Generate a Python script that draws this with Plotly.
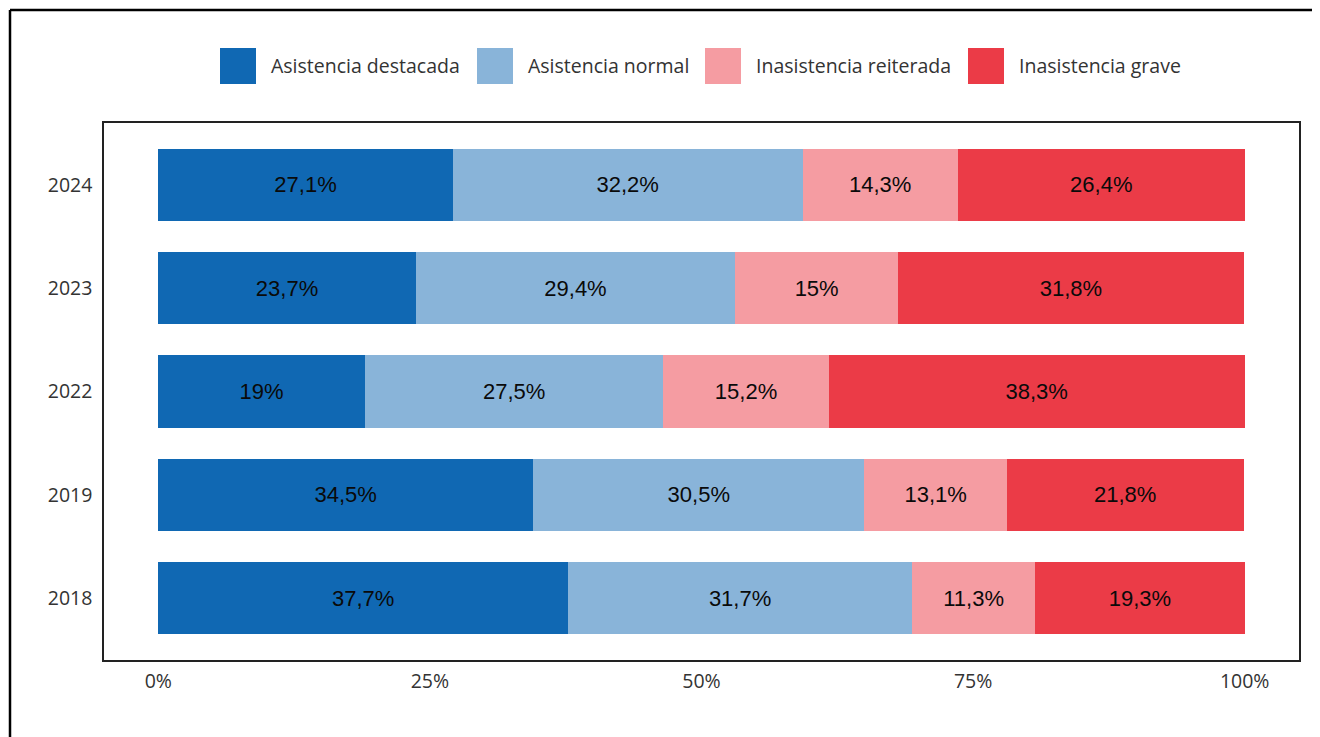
import plotly.graph_objects as go

years = ["2018", "2019", "2022", "2023", "2024"]
series_names = ["Asistencia destacada", "Asistencia normal", "Inasistencia reiterada", "Inasistencia grave"]
destacada = [37.7, 34.5, 19.0, 23.7, 27.1]
normal = [31.7, 30.5, 27.5, 29.4, 32.2]
reiterada = [11.3, 13.1, 15.2, 15.0, 14.3]
grave = [19.3, 21.8, 38.3, 31.8, 26.4]
colors = ["#1068B3", "#89B4D9", "#F59CA2", "#EB3B47"]
x_ticks = [0, 25, 50, 75, 100]
x_ticktext = ["0%", "25%", "50%", "75%", "100%"]

OFF = 8  # page body margin
W, H = 1320 - OFF, 737 - OFF
L, R, T, B = 104 - OFF, 1299 - OFF, 123 - OFF, 660 - OFF

def fmt(v):
    return f"{v:g}".replace(".", ",") + "%"

fig = go.Figure()
for name, vals, col in zip(series_names, [destacada, normal, reiterada, grave], colors):
    fig.add_trace(go.Bar(
        y=years, x=vals, orientation="h", name=name,
        marker=dict(color=col, line=dict(width=0)),
        text=[fmt(v) for v in vals], textposition="inside",
        insidetextanchor="middle",
        textfont=dict(family="Liberation Sans, Arial", size=22, color="#0a0a0a"),
        showlegend=False, hoverinfo="skip",
    ))

def px2paper_x(px):
    px -= OFF
    return (px - L) / (R - L)

def px2paper_y(py):
    py -= OFF
    return (B - py) / (B - T)

shapes = []
annotations = []
# manual legend
leg_sq_x = [220, 477, 705, 968]
leg_txt_x = [269, 526, 754, 1017]
for i, name in enumerate(series_names):
    shapes.append(dict(type="rect", xref="paper", yref="paper",
                       x0=px2paper_x(leg_sq_x[i]), x1=px2paper_x(leg_sq_x[i] + 36),
                       y0=px2paper_y(84), y1=px2paper_y(48),
                       fillcolor=colors[i], line=dict(width=0)))
    annotations.append(dict(xref="paper", yref="paper", x=px2paper_x(leg_txt_x[i]), y=px2paper_y(66),
                            text=name, showarrow=False, xanchor="left", yanchor="middle",
                            font=dict(family="Open Sans, Lato", size=19.5, color="#333333")))
# outer frame lines
shapes.append(dict(type="line", xref="paper", yref="paper",
                   x0=px2paper_x(10), x1=px2paper_x(1330), y0=px2paper_y(10), y1=px2paper_y(10),
                   line=dict(color="#000000", width=2.5)))
shapes.append(dict(type="line", xref="paper", yref="paper",
                   x0=px2paper_x(10), x1=px2paper_x(10), y0=px2paper_y(10), y1=px2paper_y(750),
                   line=dict(color="#000000", width=2.5)))

fig.update_layout(
    width=W, height=H,
    margin=dict(l=L, r=W - R, t=T, b=H - B, pad=0),
    barmode="stack", bargap=0.3,
    plot_bgcolor="white", paper_bgcolor="white",
    showlegend=False,
    shapes=shapes, annotations=annotations,
    uniformtext=dict(mode=False),
    xaxis=dict(range=[-5, 105], tickvals=x_ticks, ticktext=x_ticktext,
               showgrid=False, zeroline=False, showline=True, mirror=True,
               linecolor="#222222", linewidth=1.5, ticks="outside", ticklen=3, tickcolor="white",
               tickfont=dict(family="Open Sans, Lato", size=19.5, color="#333333")),
    yaxis=dict(type="category", categoryorder="array", categoryarray=years, range=[-0.6, 4.6],
               showgrid=False, zeroline=False, showline=True, mirror=True,
               linecolor="#222222", linewidth=1.5, ticks="outside", ticklen=6, tickcolor="white",
               tickfont=dict(family="Open Sans, Lato", size=19.5, color="#333333")),
)

fig.write_html("out.html")
